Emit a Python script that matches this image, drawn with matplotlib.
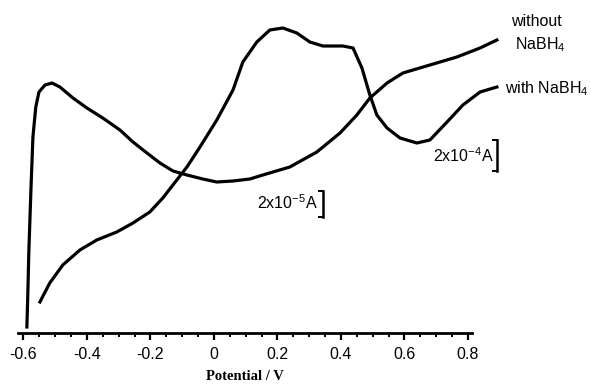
import matplotlib
matplotlib.use('Agg')
import matplotlib.pyplot as plt
from matplotlib.ticker import MultipleLocator

plt.rcParams['mathtext.fontset'] = 'custom'
plt.rcParams['mathtext.rm'] = 'Liberation Sans'
plt.rcParams['mathtext.it'] = 'Liberation Sans'
plt.rcParams['mathtext.default'] = 'regular'

# Potential (V) read against the drawn axis, current in arbitrary units
without_v = [-0.589, -0.586, -0.583, -0.576, -0.570, -0.561, -0.551, -0.532,
             -0.510, -0.485, -0.444, -0.400, -0.350, -0.296, -0.255, -0.211,
             -0.170, -0.129, -0.085, -0.035, 0.009, 0.060, 0.113, 0.154, 0.239,
             0.324, 0.397, 0.450, 0.491, 0.545, 0.595, 0.680, 0.765, 0.838, 0.891]
without_i = [6, 40, 80, 146, 196, 226, 241, 248, 250, 246, 235, 225, 215,
             203, 191, 180, 170, 162, 158, 154, 151, 152, 154, 158, 166, 181,
             200, 218, 235, 250, 260, 268, 276, 285, 293]

with_v = [-0.548, -0.517, -0.476, -0.422, -0.369, -0.306, -0.255, -0.202,
          -0.161, -0.117, -0.085, -0.044, 0.009, 0.060, 0.091, 0.135, 0.176,
          0.217, 0.261, 0.302, 0.343, 0.406, 0.438, 0.466, 0.491, 0.513,
          0.545, 0.586, 0.639, 0.680, 0.734, 0.784, 0.838, 0.891]
with_i = [31, 50, 68, 83, 93, 101, 110, 121, 135, 153, 166, 186, 213, 243,
          271, 291, 303, 305, 300, 291, 287, 287, 285, 265, 238, 218, 205,
          195, 190, 193, 211, 228, 241, 246]

fig = plt.figure(figsize=(5.91, 3.86), dpi=100)
ax = fig.add_axes([18 / 591, 1 - 333 / 386, 454 / 591, 333 / 386])

ax.plot(without_v, without_i, color='black', lw=2.3, clip_on=False)
ax.plot(with_v, with_i, color='black', lw=2.3, clip_on=False)

ax.set_xlim(-0.617, 0.8126)
ax.set_ylim(0, 333)

for side in ['left', 'right', 'top']:
    ax.spines[side].set_visible(False)
ax.spines['bottom'].set_linewidth(2)
ax.set_yticks([])

ax.xaxis.set_major_locator(MultipleLocator(0.2))
ax.xaxis.set_minor_locator(MultipleLocator(0.05))
ax.tick_params(axis='x', which='major', direction='out', length=5, width=1.6,
               pad=5, labelsize=11.5)
ax.tick_params(axis='x', which='minor', direction='out', length=3, width=1.4)
ax.set_xticks([-0.6, -0.4, -0.2, 0, 0.2, 0.4, 0.6, 0.8])
ax.set_xticklabels(['-0.6', '-0.4', '-0.2', '0', '0.2', '0.4', '0.6', '0.8'],
                   family='Liberation Sans')
ax.set_xlabel('Potential / V', family='Liberation Serif', fontweight='bold',
              fontsize=10.5, labelpad=6)

sans = dict(family='Liberation Sans', fontsize=11.5, color='black')
fig.text(536 / 591, 1 - 22 / 386, 'without', ha='center', va='center', **sans)
fig.text(540 / 591, 1 - 45 / 386, r'NaBH$_4$', ha='center', va='center', **sans)
fig.text(505 / 591, 1 - 89 / 386, r'with NaBH$_4$', ha='left', va='center', **sans)
fig.text(494 / 591, 1 - 156 / 386, r'2x10$^{-4}$A', ha='right', va='center', **sans)
fig.text(318 / 591, 1 - 203 / 386, r'2x10$^{-5}$A', ha='right', va='center', **sans)

# scale bars
for x, y0, y1 in [(497, 140, 171), (323, 191, 217)]:
    fig.add_artist(plt.Line2D([x / 591, x / 591], [1 - y0 / 386, 1 - y1 / 386],
                              color='black', lw=1.8, transform=fig.transFigure))
    for y in (y0, y1):
        fig.add_artist(plt.Line2D([(x - 4) / 591, x / 591], [1 - y / 386, 1 - y / 386],
                                  color='black', lw=1.4, transform=fig.transFigure))

fig.savefig('out.png', dpi=100)
